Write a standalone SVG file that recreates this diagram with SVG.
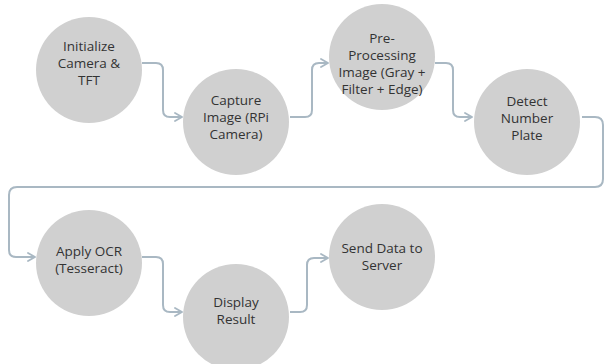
<svg xmlns="http://www.w3.org/2000/svg" width="606" height="364" viewBox="0 0 606 364">
  <defs>
    <marker id="arrow" viewBox="0 0 10 10" refX="9" refY="5" markerWidth="10" markerHeight="10" markerUnits="userSpaceOnUse" orient="auto">
      <path d="M2,1 L9,5 L2,9" fill="none" stroke="#a9b8c3" stroke-width="1.8" stroke-linecap="round" stroke-linejoin="round"/>
    </marker>
  </defs>
  <style>
    .node circle { fill: #d0d0d0; }
    .node text { font-family: "Open Sans", "Liberation Sans", sans-serif; font-size: 13.5px; fill: #333333; text-anchor: middle; }
    .edge { fill: none; stroke: #a9b8c3; stroke-width: 2; marker-end: url(#arrow); }
  </style>
  <rect width="606" height="364" fill="#ffffff"/>

  <g id="connectors">
    <path class="edge" d="M142,63 H156 Q163,63 163,70 V110 Q163,117 170,117 H182"/>
    <path class="edge" d="M290,117 H305 Q312,117 312,110 V70 Q312,63 319,63 H328"/>
    <path class="edge" d="M435,63 H446 Q453,63 453,70 V110 Q453,117 460,117 H472"/>
    <path class="edge" d="M582,117 H595 Q603,117 603,125 V179 Q603,187 595,187 H17 Q9,187 9,195 V250 Q9,257 16,257 H35"/>
    <path class="edge" d="M142,257 H156 Q163,257 163,264 V305 Q163,312 170,312 H182"/>
    <path class="edge" d="M290,312 H300 Q307,312 307,305 V265 Q307,258 314,258 H328"/>
  </g>

  <g id="n1" class="node">
    <circle cx="89" cy="70" r="53"/>
    <text x="89" y="51">Initialize</text>
    <text x="89" y="68">Camera &amp;</text>
    <text x="89" y="85">TFT</text>
  </g>
  <g id="n2" class="node">
    <circle cx="236" cy="122" r="53"/>
    <text x="236" y="105">Capture</text>
    <text x="236" y="122">Image (RPi</text>
    <text x="236" y="139">Camera)</text>
  </g>
  <g id="n3" class="node">
    <circle cx="382" cy="57" r="53"/>
    <text x="382" y="43">Pre-</text>
    <text x="382" y="60">Processing</text>
    <text x="382" y="77">Image (Gray +</text>
    <text x="382" y="94">Filter + Edge)</text>
  </g>
  <g id="n4" class="node">
    <circle cx="527" cy="122" r="53"/>
    <text x="527" y="106">Detect</text>
    <text x="527" y="123">Number</text>
    <text x="527" y="140">Plate</text>
  </g>
  <g id="n5" class="node">
    <circle cx="89" cy="263" r="53"/>
    <text x="89" y="256">Apply OCR</text>
    <text x="89" y="273">(Tesseract)</text>
  </g>
  <g id="n6" class="node">
    <circle cx="236" cy="317" r="53"/>
    <text x="236" y="307">Display</text>
    <text x="236" y="324">Result</text>
  </g>
  <g id="n7" class="node">
    <circle cx="382" cy="257" r="53"/>
    <text x="382" y="253">Send Data to</text>
    <text x="382" y="270">Server</text>
  </g>
</svg>
